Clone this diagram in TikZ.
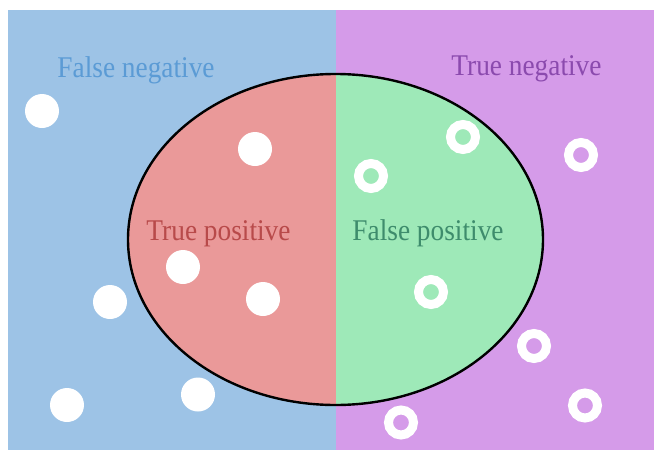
\documentclass[tikz,border=0pt]{standalone}
\usepackage{fontspec}
\setmainfont{Liberation Serif}
\definecolor{fnbg}{HTML}{9DC3E6}
\definecolor{tnbg}{HTML}{D59BE9}
\definecolor{tpbg}{HTML}{EA9999}
\definecolor{fpbg}{HTML}{9EE9B8}
\definecolor{fntx}{HTML}{5B9BD5}
\definecolor{tntx}{HTML}{8B4AAE}
\definecolor{tptx}{HTML}{B84A4A}
\definecolor{fptx}{HTML}{3E8C6C}
\tikzset{
  lbl/.style={anchor=base, inner sep=0pt, yscale=1.1, font=\fontsize{20.5}{24}\selectfont},
  dotfull/.style={circle, fill=white, minimum size=25.5pt, inner sep=0pt},
  dotring/.style={circle, draw=white, line width=6.75pt, minimum size=18.75pt, inner sep=0pt},
}
\begin{document}
\begin{tikzpicture}[x=0.75pt,y=-0.75pt]
\useasboundingbox (0,0) rectangle (654,450);
\fill[fnbg] (8,10) rectangle (336,450);
\fill[tnbg] (336,10) rectangle (654,450);
\begin{scope}
  \clip (0,0) rectangle (336,450);
  \fill[tpbg] (335.5,239.5) ellipse [x radius=207.5, y radius=165.5];
\end{scope}
\begin{scope}
  \clip (336,0) rectangle (654,450);
  \fill[fpbg] (335.5,239.5) ellipse [x radius=207.5, y radius=165.5];
\end{scope}
\draw[line width=1.8pt] (335.5,239.5) ellipse [x radius=207.5, y radius=165.5];

\node[lbl, text=fntx] (fn) at (136,77) {False negative};
\node[lbl, text=tntx] (tn) at (526.5,75) {True negative};
\node[lbl, text=tptx] (tp) at (218.5,240) {True positive};
\node[lbl, text=fptx] (fp) at (428,240) {False positive};

\node[dotfull] (f1) at (42,111) {};
\node[dotfull] (f2) at (255,149) {};
\node[dotfull] (f3) at (183,267) {};
\node[dotfull] (f4) at (110,302) {};
\node[dotfull] (f5) at (263,299) {};
\node[dotfull] (f6) at (67,405) {};
\node[dotfull] (f7) at (198,394.5) {};

\node[dotring] (r1) at (371,176) {};
\node[dotring] (r2) at (463,137) {};
\node[dotring] (r3) at (581,155) {};
\node[dotring] (r4) at (431,292) {};
\node[dotring] (r5) at (534,346) {};
\node[dotring] (r6) at (585,405.5) {};
\node[dotring] (r7) at (401,422.5) {};
\end{tikzpicture}
\end{document}
